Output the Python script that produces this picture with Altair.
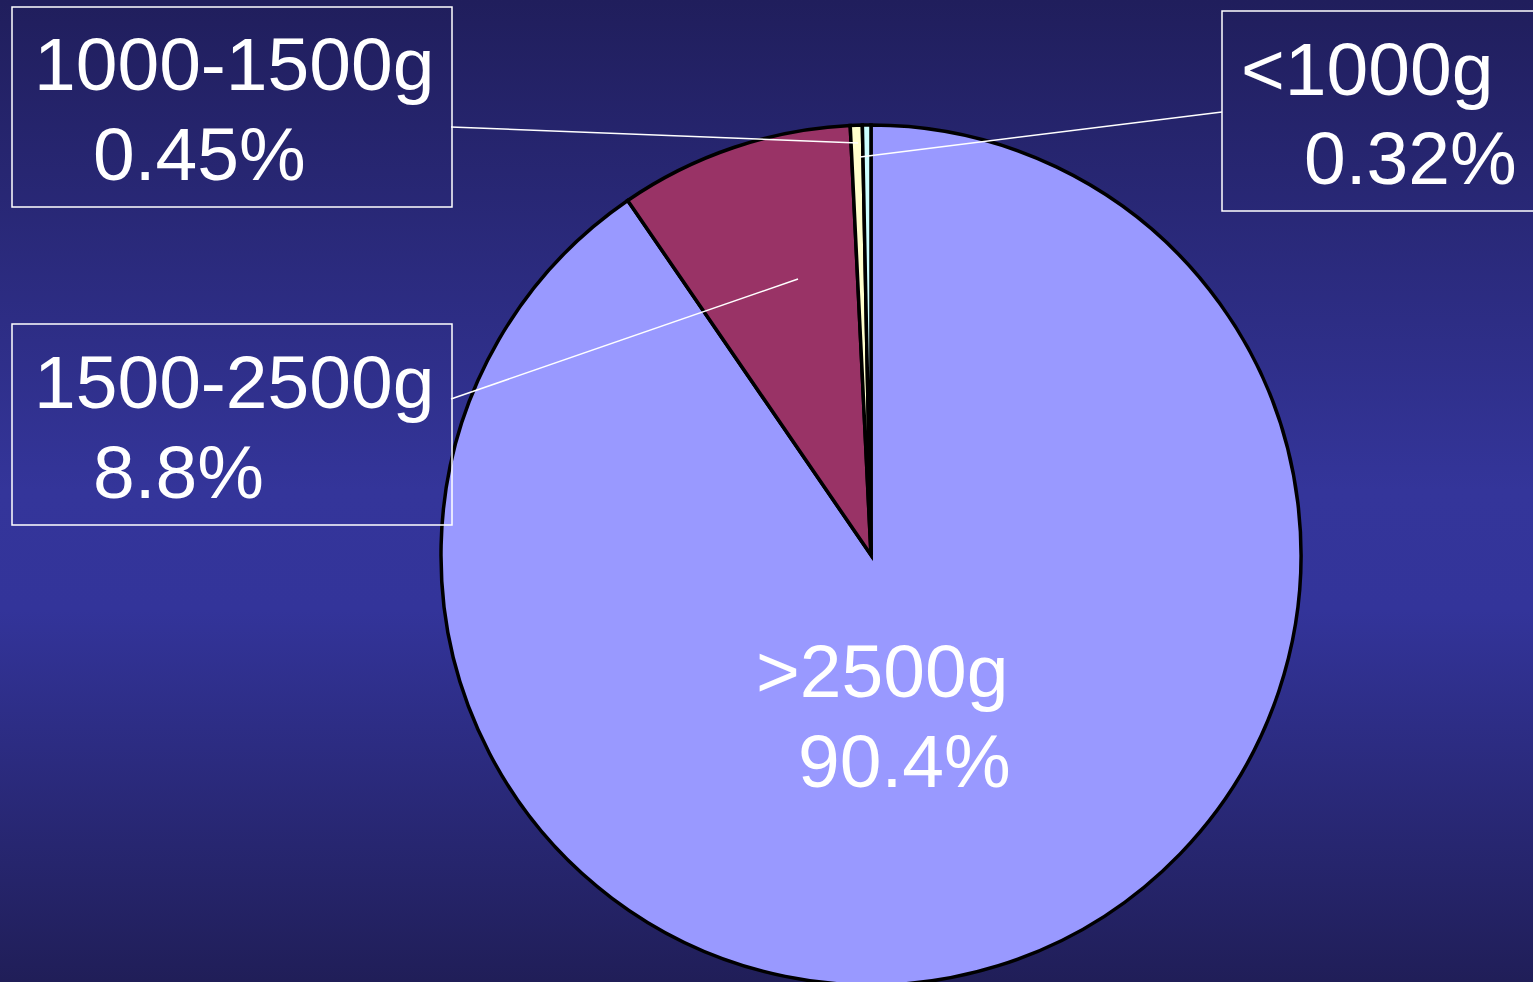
import altair as alt
import pandas as pd

# Birth-weight distribution
categories = [">2500g", "1500-2500g", "1000-1500g", "<1000g"]
shares = [90.4, 8.8, 0.45, 0.32]
share_labels = ["90.4%", "8.8%", "0.45%", "0.32%"]
slice_colors = ["#9999ff", "#993366", "#ffffcc", "#ccffff"]

W, H = 1533, 982
CX, CY, R = 871, 555, 430

pie_df = pd.DataFrame({
    "category": categories,
    "share": shares,
    "order": list(range(len(categories))),
})

# Callout layout: boxes, leader lines and text anchors (pixel positions)
boxes = pd.DataFrame({
    "category": ["1000-1500g", "<1000g", "1500-2500g"],
    "x0": [12, 1222, 12], "x1": [452, 1545, 452],
    "y0": [7, 11, 324], "y1": [207, 211, 525],
})
leaders = pd.DataFrame({
    "category": ["1000-1500g", "<1000g", "1500-2500g"],
    "x0": [451, 1222, 451], "y0": [127, 112, 399],
    "x1": [858, 860, 798], "y1": [143, 157, 279],
})
name_pos = {">2500g": (756, 697), "1500-2500g": (34, 408),
            "1000-1500g": (34, 90), "<1000g": (1241, 95)}
value_pos = {">2500g": (798, 787), "1500-2500g": (93, 498),
             "1000-1500g": (93, 180), "<1000g": (1304, 184)}

text_rows = []
for cat, lab in zip(categories, share_labels):
    nx, ny = name_pos[cat]
    vx, vy = value_pos[cat]
    text_rows.append({"text": cat, "x": nx, "y": ny})
    text_rows.append({"text": lab, "x": vx, "y": vy})
text_df = pd.DataFrame(text_rows)

xs = alt.Scale(domain=[0, W], nice=False, zero=False)
ys = alt.Scale(domain=[0, H], nice=False, zero=False, reverse=True)

background = alt.Chart(pd.DataFrame({"a": [0]})).mark_rect(
    color=alt.Gradient(
        gradient="linear",
        stops=[
            alt.GradientStop(color="#201e5c", offset=0),
            alt.GradientStop(color="#34359a", offset=0.5),
            alt.GradientStop(color="#33349a", offset=0.62),
            alt.GradientStop(color="#201e58", offset=1),
        ],
        x1=0, x2=0, y1=0, y2=1,
    )
).encode(
    x=alt.value(0), x2=alt.value(W), y=alt.value(0), y2=alt.value(H)
)

pie = alt.Chart(pie_df).mark_arc(
    radius=R, stroke="black", strokeWidth=3.5
).encode(
    theta=alt.Theta("share:Q", stack=True),
    order=alt.Order("order:Q", sort="ascending"),
    color=alt.Color("category:N",
                    scale=alt.Scale(domain=categories, range=slice_colors),
                    legend=None),
    x=alt.value(CX),
    y=alt.value(CY),
)

box_layer = alt.Chart(boxes).mark_rect(
    fillOpacity=0, stroke="white", strokeWidth=1.5
).encode(
    x=alt.X("x0:Q", scale=xs, axis=None),
    x2="x1:Q",
    y=alt.Y("y0:Q", scale=ys, axis=None),
    y2="y1:Q",
)

leader_layer = alt.Chart(leaders).mark_rule(
    color="white", strokeWidth=1.5
).encode(
    x=alt.X("x0:Q", scale=xs, axis=None),
    x2="x1:Q",
    y=alt.Y("y0:Q", scale=ys, axis=None),
    y2="y1:Q",
)

labels = alt.Chart(text_df).mark_text(
    align="left", baseline="alphabetic", font="Liberation Sans",
    fontSize=75, color="white"
).encode(
    x=alt.X("x:Q", scale=xs, axis=None),
    y=alt.Y("y:Q", scale=ys, axis=None),
    text="text:N",
)

chart = alt.layer(
    background, pie, box_layer, leader_layer, labels
).properties(
    width=W, height=H, padding=0, autosize="none", background="#2a2a7a"
).configure_view(stroke=None)

chart.save("out.html", embed_options={"renderer": "svg", "actions": False})
